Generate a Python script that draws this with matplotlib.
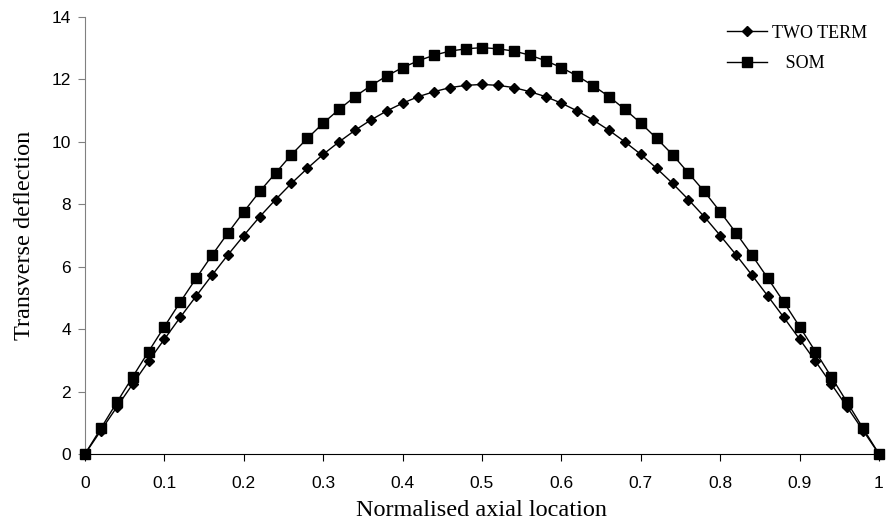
import matplotlib
matplotlib.use("Agg")
import matplotlib.pyplot as plt

x = [0.00, 0.02, 0.04, 0.06, 0.08, 0.10, 0.12, 0.14, 0.16, 0.18, 0.20, 0.22, 0.24,
     0.26, 0.28, 0.30, 0.32, 0.34, 0.36, 0.38, 0.40, 0.42, 0.44, 0.46, 0.48, 0.50,
     0.52, 0.54, 0.56, 0.58, 0.60, 0.62, 0.64, 0.66, 0.68, 0.70, 0.72, 0.74, 0.76,
     0.78, 0.80, 0.82, 0.84, 0.86, 0.88, 0.90, 0.92, 0.94, 0.96, 0.98, 1.00]

two_term = [0.0, 0.75, 1.5, 2.24, 2.97, 3.68, 4.38, 5.06, 5.73, 6.38, 7.0, 7.6, 8.15,
            8.67, 9.15, 9.6, 10.0, 10.37, 10.7, 10.99, 11.24, 11.45, 11.61, 11.74, 11.81, 11.84,
            11.81, 11.74, 11.61, 11.45, 11.24, 10.99, 10.7, 10.37, 10.0, 9.6, 9.15, 8.67, 8.15,
            7.6, 7.0, 6.38, 5.73, 5.06, 4.38, 3.68, 2.97, 2.24, 1.5, 0.75, 0.0]

som = [0.0, 0.82, 1.65, 2.47, 3.28, 4.08, 4.87, 5.63, 6.37, 7.08, 7.76, 8.41, 9.0,
       9.59, 10.11, 10.6, 11.04, 11.45, 11.8, 12.11, 12.38, 12.6, 12.78, 12.91, 12.98, 13.02,
       12.98, 12.91, 12.78, 12.6, 12.38, 12.11, 11.8, 11.45, 11.04, 10.6, 10.11, 9.59, 9.0,
       8.41, 7.76, 7.08, 6.37, 5.63, 4.87, 4.08, 3.28, 2.47, 1.65, 0.82, 0.0]

x_ticks = [0, 0.1, 0.2, 0.3, 0.4, 0.5, 0.6, 0.7, 0.8, 0.9, 1]
x_tick_labels = ["0", "0.1", "0.2", "0.3", "0.4", "0.5", "0.6", "0.7", "0.8", "0.9", "1"]
y_ticks = [0, 2, 4, 6, 8, 10, 12, 14]

fig = plt.figure(figsize=(8.87, 5.22), dpi=100)
ax = fig.add_axes([85/887, 1-454/522, (879-85)/887, (454-17)/522])

ax.plot(x, two_term, color="black", lw=1.0, marker="D", ms=5.5, mfc="black", mec="black",
        label="TWO TERM", clip_on=False, zorder=3)
ax.plot(x, som, color="black", lw=1.0, marker="s", ms=7, mfc="black", mec="black",
        label="   SOM", clip_on=False, zorder=3)

ax.set_xlim(0, 1)
ax.set_ylim(0, 14)
ax.set_xticks(x_ticks)
ax.set_xticklabels(x_tick_labels)
ax.set_yticks(y_ticks)

for lab in ax.get_xticklabels() + ax.get_yticklabels():
    lab.set_fontfamily("Liberation Sans")
    lab.set_fontsize(12.5)

ax.spines["top"].set_visible(False)
ax.spines["right"].set_visible(False)
ax.spines["left"].set_color("#808080")
ax.spines["bottom"].set_color("black")
ax.tick_params(axis="x", direction="out", length=5, width=0.8, pad=11)
ax.tick_params(axis="y", direction="out", length=5, width=0.8, color="#808080", pad=5)

ax.set_xlabel("Normalised axial location", family="Liberation Serif", fontsize=17.5, labelpad=6)
ax.set_ylabel("Transverse deflection", family="Liberation Serif", fontsize=17.5, labelpad=12)

leg = ax.legend(loc="upper right", bbox_to_anchor=(1.006, 1.02), frameon=False,
                prop={"family": "Liberation Serif", "size": 13},
                handlelength=2.2, handletextpad=0.3, labelspacing=0.75)

fig.savefig("out.png", dpi=100)
